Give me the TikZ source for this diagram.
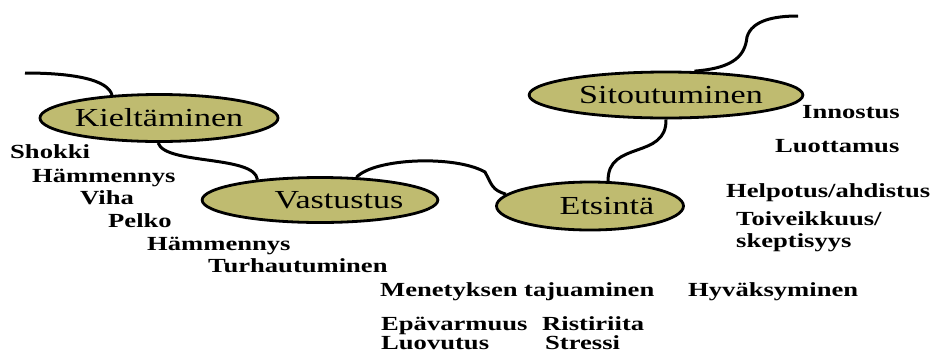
\documentclass[tikz,border=0pt]{standalone}
\usepackage{fontspec}
\usepackage{xcolor}
\usepackage{tikz}
\usetikzlibrary{shapes.geometric}
\setmainfont{Liberation Serif}
\newfontfamily\stagefam[FakeStretch=1.31]{Liberation Serif}
\newfontfamily\feelfam[FakeStretch=1.33]{Liberation Serif}
\newcommand{\stagefont}{\stagefam\fontsize{26}{30}\selectfont}
\newcommand{\feelfont}{\feelfam\bfseries\fontsize{20}{24}\selectfont}
\definecolor{stagefill}{RGB}{191, 187, 112}

\tikzset{
  stage/.style={ellipse, draw=black, line width=2.8pt, fill=stagefill,
    inner sep=0pt, font=\stagefont},
  feeling/.style={anchor=base west, inner sep=0pt, font=\feelfont},
  link/.style={line width=3pt},
}

\begin{document}
\begin{tikzpicture}[x=1pt, y=-1pt]
			\useasboundingbox (0,0) rectangle (933,354);
			
			\node[stage, minimum width=222pt, minimum height=47pt] (kiel) at (159,118) {Kieltäminen};
			\node[stage, minimum width=186pt, minimum height=45pt] (vast) at (320,200) {\hspace*{38pt}Vastustus};
			\node[stage, minimum width=187pt, minimum height=48pt] (ets) at (590,206) {\hspace*{34pt}Etsintä};
			\node[stage, minimum width=227pt, minimum height=46pt] (sito) at (666,95) {\hspace*{10pt}Sitoutuminen};
			
			\coordinate (kiel-end) at (25,73);
			\coordinate (sito-end) at (798,16);
			
			\draw[link] (kiel-end) .. controls (75,73) and (108,80) .. (kiel.154);
			\draw[link] (kiel.268) .. controls (165,165) and (255,155) .. (vast.162);
			\draw[link] (vast.32) .. controls (375,158) and (455,155) .. (485,172)
			            .. controls (492,185) and (492,190) .. (ets.172);
			\draw[link] (ets.54) .. controls (607,140) and (667,160) .. (sito.270);
			\draw[link] (sito.40) .. controls (735,68) and (745,55) .. (747,37)
			            .. controls (752,20) and (775,16) .. (sito-end);
			
			\node[feeling] (shokki) at (10,158) {Shokki};
			\node[feeling] (hamm1) at (32,182) {Hämmennys};
			\node[feeling] (viha) at (80,204) {Viha};
			\node[feeling] (pelko) at (108,227) {Pelko};
			\node[feeling] (hamm2) at (147,250) {Hämmennys};
			\node[feeling] (turh) at (208,272) {Turhautuminen};
			
			\node[feeling] (menet) at (380,296) {Menetyksen tajuaminen};
			\node[feeling] (hyvak) at (688,296) {Hyväksyminen};
			\node[feeling] (epav) at (381,330) {Epävarmuus};
			\node[feeling] (risti) at (542,330) {Ristiriita};
			\node[feeling] (luov) at (381,349) {Luovutus};
			\node[feeling] (stress) at (545,349) {Stressi};
			
			\node[feeling] (innos) at (802,118) {Innostus};
			\node[feeling] (luott) at (775,152) {Luottamus};
			\node[feeling] (helpo) at (726,197) {Helpotus/ahdistus};
			\node[feeling] (toive) at (736,225) {Toiveikkuus/};
			\node[feeling] (skept) at (736,247) {skeptisyys};
		\end{tikzpicture}
\end{document}
